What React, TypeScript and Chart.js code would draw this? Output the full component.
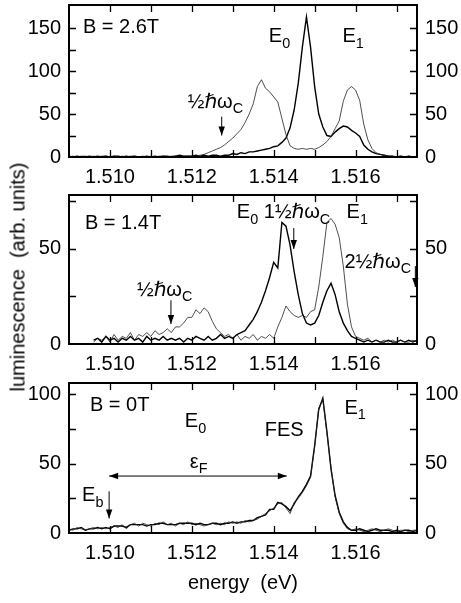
import React, { useEffect, useRef } from "react";
import { Chart, registerables } from "chart.js";

Chart.register(...registerables);

const FAMILY = '"Liberation Sans", Arial, Helvetica, "DejaVu Sans", sans-serif';

// photon energy grid (eV)
const energy = [
  1.5090, 1.5091, 1.5092, 1.5093, 1.5094, 1.5095, 1.5096, 1.5097, 1.5098, 1.5099,
  1.5100, 1.5101, 1.5102, 1.5103, 1.5104, 1.5105, 1.5106, 1.5107, 1.5108, 1.5109,
  1.5110, 1.5111, 1.5112, 1.5113, 1.5114, 1.5115, 1.5116, 1.5117, 1.5118, 1.5119,
  1.5120, 1.5121, 1.5122, 1.5123, 1.5124, 1.5125, 1.5126, 1.5127, 1.5128, 1.5129,
  1.5130, 1.5131, 1.5132, 1.5133, 1.5134, 1.5135, 1.5136, 1.5137, 1.5138, 1.5139,
  1.5140, 1.5141, 1.5142, 1.5143, 1.5144, 1.5145, 1.5146, 1.5147, 1.5148, 1.5149,
  1.5150, 1.5151, 1.5152, 1.5153, 1.5154, 1.5155, 1.5156, 1.5157, 1.5158, 1.5159,
  1.5160, 1.5161, 1.5162, 1.5163, 1.5164, 1.5165, 1.5166, 1.5167, 1.5168, 1.5169,
  1.5170, 1.5171, 1.5172, 1.5173, 1.5174, 1.5175,
];

// B = 2.6 T
const b26Thin = [
  0, 1, 0, 1, 1, 0, 1, 0, 1, 1,
  0, 1, 0, 1, 0, 1, 1, 0, 1, 0,
  1, 0, 1, 1, 0, 1, 1, 0, 1, 1,
  1, 1, 2, 3, 5, 7, 9, 11, 14, 18,
  22, 27, 32, 40, 50, 62, 82, 90, 80, 76,
  70, 64, 45, 26, 13, 10, 9, 10, 9, 10,
  9, 11, 14, 18, 24, 33, 42, 65, 78, 82,
  78, 66, 38, 20, 10, 5, 3, 2, 1, 1,
  0, 1, 0, 1, 0, 0,
];
const b26Thick = [
  1, 0, 1, 0, 0, 1, 0, 1, 0, 1,
  0, 1, 1, 0, 1, 0, 1, 0, 0, 1,
  0, 1, 0, 1, 1, 0, 1, 2, 1, 1,
  1, 2, 1, 2, 1, 2, 2, 1, 2, 2,
  4, 3, 5, 4, 6, 6, 7, 8, 9, 10,
  12, 13, 17, 22, 34, 55, 86, 128, 163, 128,
  82, 50, 35, 25, 24, 29, 33, 36, 35, 31,
  28, 24, 14, 9, 6, 4, 3, 2, 1, 1,
  0, 1, 0, 1, 0, 0,
];

// B = 1.4 T
const b14Thin = [
  null, null, null, null, null, null, 1, 3, 2, 4,
  1, 5, 2, 4, 3, 6, 2, 5, 4, 6,
  4, 7, 5, 6, 8, 6, 9, 9, 11, 14,
  14, 18, 16, 19, 17, 12, 8, 6, 4, 5,
  3, 5, 2, 4, 3, 5, 2, 4, 3, 5,
  3, 9, 14, 20, 17, 15, 14, 15, 14, 17,
  18, 30, 46, 64, 66, 63, 56, 41, 21, 9,
  4, 3, 2, 3, 1, 2, 1, 2, 1, 2,
  1, 2, 1, 1, 2, 1,
];
const b14Thick = [
  null, null, null, null, null, null, 2, 3, 1, 4,
  2, 3, 1, 3, 2, 4, 2, 3, 1, 4,
  2, 3, 2, 4, 2, 3, 2, 3, 1, 3,
  2, 4, 3, 2, 4, 2, 3, 5, 3, 4,
  3, 5, 6, 7, 10, 13, 17, 22, 28, 35,
  43, 40, 64, 62, 52, 38, 26, 16, 11, 10,
  11, 15, 22, 28, 32, 26, 17, 11, 7, 4,
  3, 2, 1, 2, 1, 2, 1, 1, 2, 1,
  1, 2, 1, 2, 1, 2,
];

// B = 0 T
const b0Thin = [
  3, 2, 4, 3, 2, 3, 4, 3, 4, 3,
  4, 5, 4, 6, 3, 6, 7, 5, 7, 6,
  5, 7, 6, 8, 6, 7, 5, 7, 6, 8,
  6, 7, 6, 5, 6, 7, 6, 7, 6, 8,
  7, 8, 7, 9, 8, 9, 10, 12, 14, 16,
  18, 21, 22, 18, 14, 22, 25, 29, 34, 40,
  62, 90, 96, 72, 47, 26, 14, 7, 3, 2,
  3, 2, 1, 2, 3, 2, 1, 2, 3, 2,
  1, 2, 2, 1, 2, 2,
];
const b0Thick = [
  2, 3, 3, 4, 2, 3, 3, 4, 3, 4,
  3, 5, 5, 5, 4, 6, 6, 6, 6, 5,
  6, 6, 7, 7, 6, 6, 6, 7, 7, 7,
  7, 6, 7, 6, 6, 7, 7, 6, 7, 7,
  8, 7, 8, 8, 9, 9, 11, 12, 13, 17,
  17, 22, 21, 19, 16, 21, 26, 30, 35, 41,
  63, 89, 97, 73, 46, 27, 15, 8, 4, 2,
  2, 3, 2, 1, 2, 3, 2, 2, 2, 1,
  2, 1, 2, 2, 1, 2,
];

const xTickLabels = [1.51, 1.512, 1.514, 1.516];
const xTickMarks = [1.51, 1.511, 1.512, 1.513, 1.514, 1.515, 1.516, 1.517];
const yTicks26 = [0, 50, 100, 150];
const yMarks26 = [25, 50, 75, 100, 125, 150];
const yTicks14 = [0, 50];
const yMarks14 = [25, 50, 75];
const yTicks0 = [0, 50, 100];
const yMarks0 = [25, 50, 75, 100];

type Seg = { t: string; sub?: boolean };
type Ann =
  | { kind: "text"; x: number; y: number; segs: Seg[] }
  | { kind: "arrow"; x1: number; y1: number; x2: number; y2: number; both?: boolean };

const HW = "\u00BD\u210F\u03C9";

const ann26: Ann[] = [
  { kind: "text", x: 1.50934, y: 151, segs: [{ t: "B = 2.6T" }] },
  { kind: "text", x: 1.51388, y: 140, segs: [{ t: "E" }, { t: "0", sub: true }] },
  { kind: "text", x: 1.51568, y: 140, segs: [{ t: "E" }, { t: "1", sub: true }] },
  { kind: "text", x: 1.5119, y: 64, segs: [{ t: HW }, { t: "C", sub: true }] },
  { kind: "arrow", x1: 1.51273, y1: 47, x2: 1.51273, y2: 25 },
];
const ann14: Ann[] = [
  { kind: "text", x: 1.50939, y: 63.5, segs: [{ t: "B = 1.4T" }] },
  { kind: "text", x: 1.5131, y: 69, segs: [{ t: "E" }, { t: "0", sub: true }, { t: " 1" + HW }, { t: "C", sub: true }] },
  { kind: "arrow", x1: 1.51449, y1: 61, x2: 1.51449, y2: 50 },
  { kind: "text", x: 1.51578, y: 69, segs: [{ t: "E" }, { t: "1", sub: true }] },
  { kind: "text", x: 1.51573, y: 43, segs: [{ t: "2" + HW }, { t: "C", sub: true }] },
  { kind: "arrow", x1: 1.51746, y1: 41, x2: 1.51746, y2: 30 },
  { kind: "text", x: 1.51066, y: 28.4, segs: [{ t: HW }, { t: "C", sub: true }] },
  { kind: "arrow", x1: 1.51149, y1: 23, x2: 1.51149, y2: 10.5 },
];
const ann0: Ann[] = [
  { kind: "text", x: 1.50951, y: 92, segs: [{ t: "B = 0T" }] },
  { kind: "text", x: 1.51183, y: 80, segs: [{ t: "E" }, { t: "0", sub: true }] },
  { kind: "text", x: 1.51378, y: 74, segs: [{ t: "FES" }] },
  { kind: "text", x: 1.51573, y: 90, segs: [{ t: "E" }, { t: "1", sub: true }] },
  { kind: "text", x: 1.51195, y: 51, segs: [{ t: "\u03B5" }, { t: "F", sub: true }] },
  { kind: "arrow", x1: 1.50998, y1: 41, x2: 1.51432, y2: 41, both: true },
  { kind: "text", x: 1.50932, y: 27, segs: [{ t: "E" }, { t: "b", sub: true }] },
  { kind: "arrow", x1: 1.50998, y1: 30, x2: 1.50998, y2: 10.5 },
];

type PanelCfg = {
  top: number;
  height: number;
  plotBottom: number;
  ymax: number;
  thin: (number | null)[];
  thick: (number | null)[];
  yTicks: number[];
  yMarks: number[];
  anns: Ann[];
  xTitle?: string;
};

const panels: PanelCfg[] = [
  { top: 0, height: 190, plotBottom: 157, ymax: 177, thin: b26Thin, thick: b26Thick, yTicks: yTicks26, yMarks: yMarks26, anns: ann26 },
  { top: 190, height: 190, plotBottom: 154, ymax: 78.4, thin: b14Thin, thick: b14Thick, yTicks: yTicks14, yMarks: yMarks14, anns: ann14 },
  { top: 378, height: 225, plotBottom: 155, ymax: 108, thin: b0Thin, thick: b0Thick, yTicks: yTicks0, yMarks: yMarks0, anns: ann0, xTitle: "energy  (eV)" },
];

const FS = 20;

function drawRich(ctx: CanvasRenderingContext2D, x: number, y: number, segs: Seg[]) {
  let cx = x;
  ctx.textAlign = "left";
  ctx.textBaseline = "middle";
  for (const s of segs) {
    const fs = s.sub ? FS * 0.72 : FS;
    ctx.font = `${fs}px ${FAMILY}`;
    ctx.fillText(s.t, cx, s.sub ? y + FS * 0.36 : y);
    cx += ctx.measureText(s.t).width;
  }
}

function arrowHead(ctx: CanvasRenderingContext2D, x1: number, y1: number, x2: number, y2: number) {
  const ang = Math.atan2(y2 - y1, x2 - x1);
  const L = 9;
  const W = 3.2;
  ctx.beginPath();
  ctx.moveTo(x2, y2);
  ctx.lineTo(x2 - L * Math.cos(ang) + W * Math.sin(ang), y2 - L * Math.sin(ang) - W * Math.cos(ang));
  ctx.lineTo(x2 - L * Math.cos(ang) - W * Math.sin(ang), y2 - L * Math.sin(ang) + W * Math.cos(ang));
  ctx.closePath();
  ctx.fill();
}

function makeFramePlugin(p: PanelCfg) {
  return {
    id: "frame",
    afterDatasetsDraw(chart: any) {
      const { ctx, chartArea: a, scales } = chart;
      const sx = scales.x;
      const sy = scales.y;
      ctx.save();
      ctx.strokeStyle = "#000";
      ctx.fillStyle = "#000";
      ctx.lineWidth = 2;
      ctx.strokeRect(a.left, a.top, a.right - a.left, a.bottom - a.top);
      ctx.lineWidth = 1.3;
      ctx.beginPath();
      for (const v of xTickMarks) {
        const px = Math.round(sx.getPixelForValue(v)) + 0.5;
        ctx.moveTo(px, a.bottom);
        ctx.lineTo(px, a.bottom - 7);
        ctx.moveTo(px, a.top);
        ctx.lineTo(px, a.top + 7);
      }
      for (const v of p.yMarks) {
        const py = Math.round(sy.getPixelForValue(v)) + 0.5;
        ctx.moveTo(a.left, py);
        ctx.lineTo(a.left + 7, py);
        ctx.moveTo(a.right, py);
        ctx.lineTo(a.right - 7, py);
      }
      ctx.stroke();

      for (const an of p.anns) {
        if (an.kind === "text") {
          drawRich(ctx, sx.getPixelForValue(an.x), sy.getPixelForValue(an.y), an.segs);
        } else {
          const x1 = sx.getPixelForValue(an.x1);
          const y1 = sy.getPixelForValue(an.y1);
          const x2 = sx.getPixelForValue(an.x2);
          const y2 = sy.getPixelForValue(an.y2);
          ctx.lineWidth = 1;
          ctx.beginPath();
          ctx.moveTo(x1, y1);
          ctx.lineTo(x2, y2);
          ctx.stroke();
          arrowHead(ctx, x1, y1, x2, y2);
          if (an.both) arrowHead(ctx, x2, y2, x1, y1);
        }
      }
      ctx.restore();
    },
  };
}

function Panel({ p }: { p: PanelCfg }) {
  const ref = useRef<HTMLCanvasElement>(null);
  useEffect(() => {
    const font = { family: FAMILY, size: FS };
    const yAxis = (pos: "left" | "right", width: number) => ({
      type: "linear" as const,
      position: pos,
      min: 0,
      max: p.ymax,
      grid: { display: false, drawTicks: false },
      border: { display: false },
      ticks: { font, color: "#000", padding: 8, callback: (v: any) => String(v) },
      afterBuildTicks: (s: any) => {
        s.ticks = p.yTicks.map((v) => ({ value: v }));
      },
      afterFit: (s: any) => {
        s.width = width;
        s.paddingTop = 0;
        s.paddingBottom = 0;
      },
    });
    const chart = new Chart(ref.current!, {
      type: "line",
      data: {
        datasets: [
          {
            data: energy.map((e, i) => ({ x: e, y: p.thin[i] })),
            borderColor: "#222",
            borderWidth: 0.8,
            pointRadius: 0,
            tension: 0,
            fill: false,
            yAxisID: "y",
          },
          {
            data: energy.map((e, i) => ({ x: e, y: p.thick[i] })),
            borderColor: "#000",
            borderWidth: 1.4,
            pointRadius: 0,
            tension: 0,
            fill: false,
            yAxisID: "y",
          },
        ],
      } as any,
      options: {
        animation: false,
        responsive: false,
        maintainAspectRatio: false,
        events: [],
        layout: { padding: { top: 5, left: 0, right: 0, bottom: 0 } },
        plugins: { legend: { display: false }, tooltip: { enabled: false } },
        scales: {
          x: {
            type: "linear",
            position: "bottom",
            min: 1.509,
            max: 1.5175,
            grid: { display: false, drawTicks: false },
            border: { display: false },
            ticks: { font, color: "#000", padding: 8, maxRotation: 0, autoSkip: false, callback: (v: any) => Number(v).toFixed(3) },
            title: p.xTitle
              ? { display: true, text: p.xTitle, font, color: "#000", padding: { top: 0, bottom: 8 } }
              : { display: false },
            afterBuildTicks: (s: any) => {
              s.ticks = xTickLabels.map((v) => ({ value: v }));
            },
            afterFit: (s: any) => {
              s.height = p.height - p.plotBottom;
              s.paddingLeft = 0;
              s.paddingRight = 0;
            },
          },
          y: yAxis("left", 69),
          y2: yAxis("right", 44),
        },
      } as any,
      plugins: [makeFramePlugin(p)],
    });
    return () => chart.destroy();
  }, []);
  return (
    <canvas
      ref={ref}
      width={461}
      height={p.height}
      style={{ position: "absolute", left: 0, top: p.top, width: 461, height: p.height }}
    />
  );
}

export default function App() {
  return (
    <div style={{ position: "absolute", left: 0, top: 0, width: 461, height: 603, background: "#fff", overflow: "hidden" }}>
      {panels.map((p, i) => (
        <Panel key={i} p={p} />
      ))}
      <div
        style={{
          position: "absolute",
          left: 18,
          top: 277,
          transform: "translate(-50%, -50%) rotate(-90deg)",
          whiteSpace: "pre",
          font: `20px ${FAMILY}`,
          color: "#000",
        }}
      >
        {"luminescence  (arb. units)"}
      </div>
    </div>
  );
}
